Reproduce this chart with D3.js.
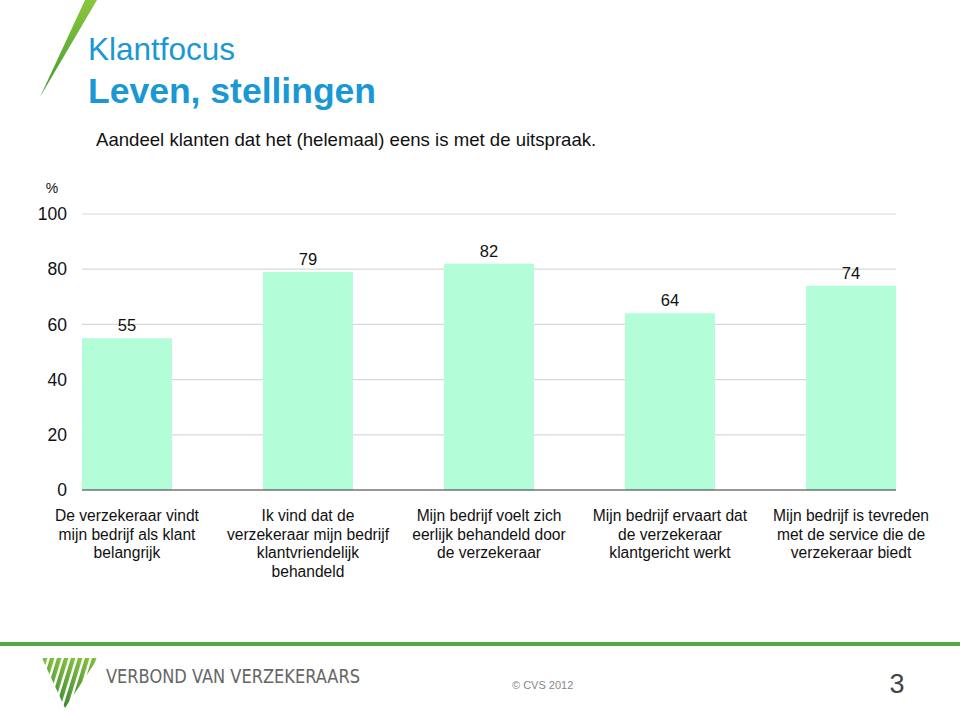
<!DOCTYPE html>
<html><head><meta charset="utf-8">
<script src="https://cdn.jsdelivr.net/npm/d3@7"></script>
<style>body{margin:0;background:#fff}svg{display:block;font-family:"Liberation Sans",Arial,sans-serif}</style>
</head><body><svg id="c" width="960" height="712"></svg>
<script>
const categories = [
  ["De verzekeraar vindt","mijn bedrijf als klant","belangrijk"],
  ["Ik vind dat de","verzekeraar mijn bedrijf","klantvriendelijk","behandeld"],
  ["Mijn bedrijf voelt zich","eerlijk behandeld  door","de verzekeraar"],
  ["Mijn bedrijf ervaart dat","de verzekeraar","klantgericht werkt"],
  ["Mijn bedrijf is tevreden","met de service die de","verzekeraar biedt"]
];
const values = [55, 79, 82, 64, 74];
const yTicks = [0, 20, 40, 60, 80, 100];

const svg = d3.select("#c");
const L = 82, R = 896, T = 214, B = 490;
const step = (R - L) / 4.497;
const x = d3.scaleBand().domain(d3.range(categories.length)).range([L, L + step*5]).paddingInner(0).paddingOuter(0);
const bw = step * 0.497;
const y = d3.scaleLinear().domain([0, 100]).range([B, T]);

// decorative green slash
const defs = svg.append("defs");
const g1 = defs.append("linearGradient").attr("id","sl").attr("x1","0").attr("y1","0").attr("x2","0").attr("y2","1");
g1.append("stop").attr("offset","0").attr("stop-color","#8cc63e");
g1.append("stop").attr("offset","1").attr("stop-color","#3f9a2e");
svg.append("path").attr("d","M85,0 L97,0 L40,97 Z").attr("fill","url(#sl)");

// titles
svg.append("text").attr("x",88).attr("y",60).attr("fill","#1a98d5").attr("font-size",31.5).text("Klantfocus");
svg.append("text").attr("x",88).attr("y",103).attr("fill","#1a98d5").attr("font-size",35.5).attr("font-weight","bold").text("Leven, stellingen");
svg.append("text").attr("x",96).attr("y",146).attr("fill","#111").attr("font-size",18.6).text("Aandeel klanten dat het (helemaal) eens is met de uitspraak.");

// grid
const grid = svg.append("g");
grid.selectAll("line").data(yTicks.filter(d=>d>0)).join("line")
  .attr("x1",L).attr("x2",R).attr("y1",d=>y(d)).attr("y2",d=>y(d))
  .attr("stroke","#d9d9d9").attr("stroke-width",1.2);

// y axis labels
const ya = svg.append("g").attr("transform",`translate(${L},0)`)
  .call(d3.axisLeft(y).tickValues(yTicks).tickSize(0).tickPadding(15));
ya.select(".domain").remove();
ya.selectAll("text").attr("font-size",17.5).attr("fill","#111").attr("font-family","Liberation Sans, Arial, sans-serif");
svg.append("text").attr("x",52).attr("y",193).attr("text-anchor","middle").attr("font-size",14).attr("fill","#111").text("%");

// bars
svg.selectAll("rect.bar").data(values).join("rect").attr("class","bar")
  .attr("x",(d,i)=>x(i)).attr("width",bw)
  .attr("y",d=>y(d)).attr("height",d=>B-y(d)).attr("fill","#b3fdd9");

// value labels
svg.selectAll("text.val").data(values).join("text").attr("class","val")
  .attr("x",(d,i)=>x(i)+bw/2).attr("y",d=>y(d)-7)
  .attr("text-anchor","middle").attr("font-size",16.5).attr("fill","#111").text(d=>d);

// baseline
svg.append("line").attr("x1",L).attr("x2",R).attr("y1",B).attr("y2",B).attr("stroke","#333").attr("stroke-width",1.2);

// category labels
const cl = svg.selectAll("text.cat").data(categories).join("text").attr("class","cat")
  .attr("text-anchor","middle").attr("font-size",15.6).attr("fill","#111");
cl.each(function(lines,i){
  d3.select(this).selectAll("tspan").data(lines).join("tspan")
    .attr("x",x(i)+bw/2).attr("y",(d,j)=>521+j*18.5).text(d=>d);
});

// footer
svg.append("rect").attr("x",0).attr("y",642).attr("width",960).attr("height",4).attr("fill","#52a845");
const cp = defs.append("clipPath").attr("id","tri");
cp.append("path").attr("d","M42,658 L98,658 L65,708 Z");
const lg = defs.append("linearGradient").attr("id","lg").attr("x1","0").attr("y1","0").attr("x2","1").attr("y2","0");
lg.append("stop").attr("offset","0").attr("stop-color","#2e7d32");
lg.append("stop").attr("offset","1").attr("stop-color","#8dc63f");
const logo = svg.append("g").attr("clip-path","url(#tri)");
logo.selectAll("path").data(d3.range(10)).join("path")
  .attr("d",i=>{const x0=36+i*7; return `M${x0},658 L${x0+4.5},658 L${x0-12},712 L${x0-16.5},712 Z`;})
  .attr("fill","url(#lg)");
svg.append("text").attr("x",106).attr("y",683).attr("font-size",19).attr("fill","#666")
  .attr("font-family","DejaVu Sans Condensed, Liberation Sans Narrow, sans-serif")
  .attr("textLength",254).attr("lengthAdjust","spacingAndGlyphs").text("VERBOND VAN VERZEKERAARS");
svg.append("text").attr("x",512).attr("y",689).attr("font-size",11).attr("fill","#888").text("© CVS 2012");
svg.append("text").attr("x",897).attr("y",693).attr("text-anchor","middle").attr("font-size",27).attr("fill","#444").text("3");
</script></body></html>
